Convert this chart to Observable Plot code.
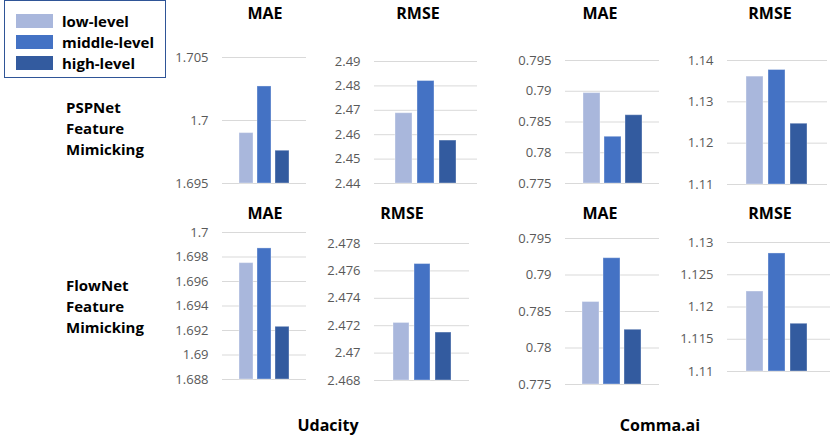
<!DOCTYPE html>
<html>
<head>
<meta charset="utf-8">
<script src="https://cdn.jsdelivr.net/npm/d3@7"></script>
<script src="https://cdn.jsdelivr.net/npm/@observablehq/plot@0.6"></script>
<style>
  html, body { margin: 0; padding: 0; background: #fff; }
  #root { position: relative; width: 830px; height: 436px; overflow: hidden; font-family: "Open Sans", sans-serif; }
  .abs { position: absolute; }
  .title { font-weight: bold; font-size: 16px; color: #000; transform: translate(-50%, -50%); white-space: nowrap; }
  .rowlab { font-weight: bold; font-size: 15px; color: #000; line-height: 21px; white-space: nowrap; }
  .legend { left: 4px; top: 0px; width: 160px; height: 76px; border: 1.5px solid #2F5597; box-sizing: content-box; }
  .sw { position: absolute; left: 11px; width: 37px; height: 14px; }
  .lt { position: absolute; left: 57px; font-weight: bold; font-size: 15px; line-height: 14px; white-space: nowrap; }
</style>
</head>
<body>
<div id="root"></div>
<script>
// ---- data ----
const levels = ["low-level", "middle-level", "high-level"];
const colors = ["#A9B7DC", "#4472C4", "#335B9F"];

const pspUdacityMAE  = [1.6990, 1.7027, 1.6976];
const pspUdacityRMSE = [2.4688, 2.4820, 2.4576];
const pspCommaMAE    = [0.7897, 0.7826, 0.7861];
const pspCommaRMSE   = [1.1361, 1.1377, 1.1247];
const flowUdacityMAE  = [1.6975, 1.6987, 1.6923];
const flowUdacityRMSE = [2.4722, 2.4765, 2.4715];
const flowCommaMAE    = [0.7863, 0.7923, 0.7825];
const flowCommaRMSE   = [1.1224, 1.1283, 1.1174];

const ticksPspUdacityMAE  = [1.695, 1.7, 1.705];
const ticksPspUdacityRMSE = [2.44, 2.45, 2.46, 2.47, 2.48, 2.49];
const ticksPspCommaMAE    = [0.775, 0.78, 0.785, 0.79, 0.795];
const ticksPspCommaRMSE   = [1.11, 1.12, 1.13, 1.14];
const ticksFlowUdacityMAE  = [1.688, 1.69, 1.692, 1.694, 1.696, 1.698, 1.7];
const ticksFlowUdacityRMSE = [2.468, 2.47, 2.472, 2.474, 2.476, 2.478];
const ticksFlowCommaMAE    = [0.775, 0.78, 0.785, 0.79, 0.795];
const ticksFlowCommaRMSE   = [1.11, 1.115, 1.12, 1.125, 1.13];

const metricTitles = ["MAE", "RMSE", "MAE", "RMSE"];
const rowLabels = [["PSPNet", "Feature", "Mimicking"], ["FlowNet", "Feature", "Mimicking"]];
const datasetLabels = ["Udacity", "Comma.ai"];

// ---- layout (pixel geometry of each panel) ----
const panels = [
  {values: pspUdacityMAE,  ticks: ticksPspUdacityMAE,  title: metricTitles[0], x0: 222, x1: 306, b0: 238, b1: 290, g: 4, yTop: 57,    yBot: 183,   tx: 265, ty: 13},
  {values: pspUdacityRMSE, ticks: ticksPspUdacityRMSE, title: metricTitles[1], x0: 374, x1: 477, b0: 394, b1: 457, g: 5, yTop: 61,    yBot: 183,   tx: 418, ty: 13},
  {values: pspCommaMAE,    ticks: ticksPspCommaMAE,    title: metricTitles[2], x0: 565, x1: 659, b0: 583, b1: 642, g: 4, yTop: 60,    yBot: 183.3, tx: 600, ty: 13},
  {values: pspCommaRMSE,   ticks: ticksPspCommaRMSE,   title: metricTitles[3], x0: 727, x1: 827, b0: 746, b1: 807, g: 5, yTop: 60,    yBot: 184,   tx: 770, ty: 13},
  {values: flowUdacityMAE,  ticks: ticksFlowUdacityMAE,  title: metricTitles[0], x0: 222, x1: 306, b0: 238, b1: 290, g: 4, yTop: 232.3, yBot: 379,   tx: 265, ty: 213},
  {values: flowUdacityRMSE, ticks: ticksFlowUdacityRMSE, title: metricTitles[1], x0: 374, x1: 469, b0: 393, b1: 451, g: 5, yTop: 243.3, yBot: 380,   tx: 402, ty: 213},
  {values: flowCommaMAE,    ticks: ticksFlowCommaMAE,    title: metricTitles[2], x0: 565, x1: 659, b0: 582, b1: 642, g: 4, yTop: 237.7, yBot: 383.3, tx: 600, ty: 213},
  {values: flowCommaRMSE,   ticks: ticksFlowCommaRMSE,   title: metricTitles[3], x0: 727, x1: 830, b0: 746, b1: 808, g: 5, yTop: 242.3, yBot: 371.7, tx: 770, ty: 213},
];

const root = document.getElementById("root");

function addDiv(cls, html, left, top) {
  const d = document.createElement("div");
  d.className = "abs " + cls;
  d.innerHTML = html;
  d.style.left = left + "px";
  d.style.top = top + "px";
  root.appendChild(d);
  return d;
}

panels.forEach(p => {
  const svgLeft = p.x0 - 60;
  const mLeft = 60, mRight = 2, mTop = 20, mBot = 20;
  const width = p.x1 - p.x0 + mLeft + mRight;
  const height = Math.round(p.yBot - p.yTop) + mTop + mBot;
  const w = (p.b1 - p.b0 - 2 * p.g) / 3;
  const pi = p.g / (w + p.g);
  const data = levels.map((l, i) => ({level: l, value: p.values[i]}));
  const yMin = p.ticks[0], yMax = p.ticks[p.ticks.length - 1];
  const chart = Plot.plot({
    width, height,
    marginLeft: mLeft, marginRight: mRight, marginTop: mTop, marginBottom: mBot,
    style: {fontFamily: "Open Sans, sans-serif", fontSize: "13px", color: "#595959", background: "transparent", overflow: "visible"},
    x: {type: "band", domain: levels, range: [p.b0 - p.g / 2 - svgLeft, p.b1 + p.g / 2 - svgLeft], paddingInner: pi, paddingOuter: pi / 2, align: 0.5, axis: null},
    y: {domain: [yMin, yMax], axis: null},
    color: {domain: levels, range: colors},
    marks: [
      Plot.ruleY(p.ticks, {stroke: "#D9D9D9", strokeWidth: 1}),
      Plot.barY(data, {x: "level", y1: yMin, y2: "value", fill: "level", stroke: "#ffffff", strokeOpacity: 0.35, strokeWidth: 1}),
      Plot.axisY(p.ticks, {tickSize: 0, tickPadding: 14, tickFormat: d => String(d), label: null, fill: "#595959"})
    ]
  });
  chart.style.position = "absolute";
  chart.style.left = svgLeft + "px";
  chart.style.top = (p.yTop - mTop) + "px";
  root.appendChild(chart);
  addDiv("title", p.title, p.tx, p.ty);
});

// row labels
addDiv("rowlab", rowLabels[0].join("<br>"), 66, 97);
addDiv("rowlab", rowLabels[1].join("<br>"), 66, 275);

// dataset labels
addDiv("title", datasetLabels[0], 328, 425);
addDiv("title", datasetLabels[1], 660, 425);

// legend
const lg = document.createElement("div");
lg.className = "abs legend";
levels.forEach((l, i) => {
  const s = document.createElement("div");
  s.className = "sw";
  s.style.top = (13 + i * 21) + "px";
  s.style.background = colors[i];
  lg.appendChild(s);
  const t = document.createElement("div");
  t.className = "lt";
  t.style.top = (13 + i * 21) + "px";
  t.textContent = l;
  lg.appendChild(t);
});
root.appendChild(lg);
</script>
</body>
</html>
